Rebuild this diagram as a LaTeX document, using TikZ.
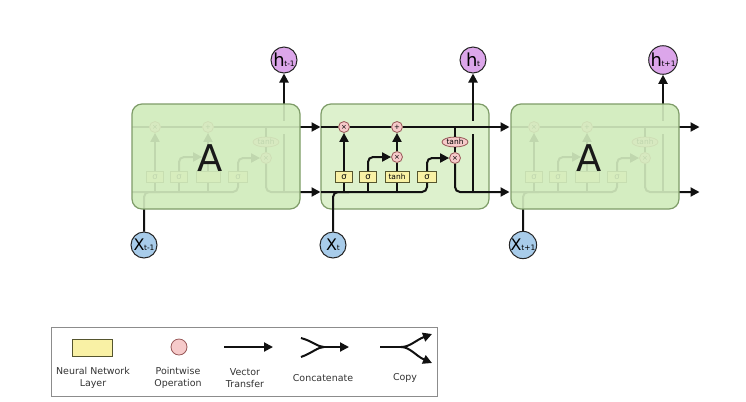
\documentclass[tikz,border=0pt]{standalone}
\usepackage{fontspec}
\setmainfont{DejaVu Sans}
\usetikzlibrary{shapes.geometric,arrows.meta}
\definecolor{cellfill}{HTML}{DDF1CD}
\definecolor{sidefill}{HTML}{D4EDC0}
\definecolor{cellborder}{HTML}{7E9C68}
\definecolor{nnfill}{HTML}{F9F1A5}
\definecolor{nnborder}{HTML}{55552E}
\definecolor{pwfill}{HTML}{F6CACA}
\definecolor{pwborder}{HTML}{985858}
\definecolor{hfill}{HTML}{DCA6EA}
\definecolor{xfill}{HTML}{A8CCEA}
\definecolor{wirecol}{HTML}{111111}
\newcommand\hlab[1]{{\fontsize{18}{18}\selectfont h}\kern-0.3pt\raisebox{-0.3pt}{\fontsize{7.5}{7.5}\selectfont #1}}
\newcommand\xlab[1]{{\fontsize{16}{16}\selectfont X}\kern-0.3pt\raisebox{-0.3pt}{\fontsize{7.5}{7.5}\selectfont #1}}
\tikzset{
  wire/.style={draw=wirecol, line width=2bp},
  flowarrow/.style={wire, -{Triangle[length=9bp,width=9bp]}},
  cellbox/.style={rectangle, rounded corners=10bp, minimum width=168bp, minimum height=105bp, inner sep=0pt, draw=cellborder, line width=1.2bp},
  pw/.style={circle, draw=pwborder, fill=pwfill, minimum size=11bp, inner sep=0pt, line width=0.8bp, font=\fontsize{7}{7}\selectfont},
  nn/.style={rectangle, draw=nnborder, fill=nnfill, minimum height=11bp, inner sep=0pt, line width=0.8bp, font=\fontsize{8.5}{8.5}\selectfont},
  tanhel/.style={ellipse, draw=pwborder, fill=pwfill, minimum width=26bp, minimum height=10bp, inner sep=0pt, line width=0.8bp, font=\fontsize{7.5}{7.5}\selectfont},
  hcirc/.style={circle, draw=black!85, fill=hfill, minimum size=26bp, inner sep=0pt, line width=1bp},
  xcirc/.style={circle, draw=black!85, fill=xfill, minimum size=26bp, inner sep=0pt, line width=1bp},
  bigA/.style={font=\fontsize{37}{37}\selectfont, text=black!90, inner sep=0pt},
  legtext/.style={align=center, font=\fontsize{9.5}{12}\selectfont, text=black!80, inner sep=0pt},
  pics/lstm/.style n args={4}{code={
    \node[pw] (-fx) at (23,23) {×};
    \node[pw] (-add) at (76,23) {+};
    \node[pw] (-ix) at (76,53) {#3};
    \node[pw] (-ox) at (134,54) {×};
    \node[tanhel] (-th) at (134,38) {tanh};
    \node[nn, minimum width=17bp] (-s1) at (23,73) {σ};
    \node[nn, minimum width=17bp] (-s2) at (47,73) {σ};
    \node[nn, minimum width=24bp, font=\fontsize{7.5}{7.5}\selectfont] (-tb) at (76,73) {#4};
    \node[nn, minimum width=19bp] (-s3) at (106,73) {σ};
    \node[hcirc] (-h) at (152,-44) {#1};
    \node[xcirc] (-x) at (12,141) {#2};
    \coordinate (-cin) at (0,23);
    \coordinate (-cout) at (188.5,23);
    \coordinate (-hin) at (0,88);
    \coordinate (-hout) at (188.5,88);
    \coordinate (-tap) at (134,23);
    \coordinate (-hup) at (152,88);
    \coordinate (-gapb) at (152,29.5);
    \coordinate (-gapt) at (152,16.5);
    \coordinate (-b1) at (23,88);
    \coordinate (-b2) at (47,88);
    \coordinate (-b3) at (76,88);
    \coordinate (-xj) at (28,88);
    % cell state
    \draw[wire] (-cin) -- (-fx);
    \draw[wire] (-fx) -- (-add);
    \draw[flowarrow] (-add) -- (-cout);
    % hidden / input line
    \draw[wire, rounded corners=5bp] (-hin) -| (-s3.south);
    \draw[wire, rounded corners=5bp] (-x.north) |- (-xj);
    \draw[wire] (-b1) -- (-s1.south);
    \draw[wire] (-b2) -- (-s2.south);
    \draw[wire] (-b3) -- (-tb.south);
    % gates
    \draw[flowarrow] (-s1.north) -- (-fx.south);
    \draw[flowarrow, rounded corners=5bp] (-s2.north) |- (-ix.west);
    \draw[wire] (-tb.north) -- (-ix.south);
    \draw[flowarrow] (-ix.north) -- (-add.south);
    \draw[flowarrow, rounded corners=5bp] (-s3.north) |- (-ox.west);
    \draw[wire] (-tap) -- (-th.north);
    \draw[wire] (-th.south) -- (-ox.north);
    \draw[flowarrow, rounded corners=5bp] (-ox.south) |- (-hout);
    % output h
    \draw[wire] (-hup) -- (-gapb);
    \draw[flowarrow] (-gapt) -- (-h.south);
  }}
}
\begin{document}
\begin{tikzpicture}[x=1bp,y=-1bp]
\useasboundingbox (0,0) rectangle (746,401);
\fill[white] (0,0) rectangle (746,401);

% center box
\node[cellbox, fill=cellfill] (boxC) at (405,156.5) {};
% left cell
\node[cellbox, draw=none, fill=cellfill] (boxL) at (216,156.5) {};
\pic (L) at (132,104) {lstm={\hlab{t-1}}{\xlab{t-1}}{}{}};
\node[cellbox, fill=sidefill, fill opacity=0.9] (ovL) at (216,156.5) {};
\node[bigA] (AL) at (210,158.5) {A};
% center cell
\pic (C) at (321,104) {lstm={\hlab{t}}{\xlab{t}}{×}{tanh}};
% right cell
\node[cellbox, draw=none, fill=cellfill] (boxR) at (595,156.5) {};
\pic (R) at (511,104) {lstm={\hlab{t+1}}{\xlab{t+1}}{}{}};
\node[cellbox, fill=sidefill, fill opacity=0.9] (ovR) at (595,156.5) {};
\node[bigA] (AR) at (589,158.5) {A};

% legend
\node[rectangle, draw=black!45, line width=1bp, minimum width=386bp, minimum height=69bp, inner sep=0pt] (legend) at (244.3,361.8) {};
\node[rectangle, draw=nnborder, fill=nnfill, line width=0.8bp, minimum width=40bp, minimum height=17bp, inner sep=0pt] (Lnn) at (92,347.5) {};
\node[circle, draw=pwborder, fill=pwfill, line width=0.8bp, minimum size=16bp, inner sep=0pt] (Lpw) at (179,347) {};
\coordinate (Lva) at (224,347);
\coordinate (Lvb) at (273,347);
\draw[flowarrow] (Lva) -- (Lvb);
\coordinate (Lc1) at (301,338);
\coordinate (Lc2) at (301,357);
\coordinate (Lcm) at (324,347);
\coordinate (Lce) at (349,347);
\draw[wire] (Lc1) .. controls (312,341) and (318,347) .. (Lcm);
\draw[wire] (Lc2) .. controls (312,353) and (318,347) .. (Lcm);
\draw[flowarrow] (Lcm) -- (Lce);
\coordinate (Lp0) at (380,347);
\coordinate (Lpm) at (401,347);
\coordinate (Lpu) at (432,334);
\coordinate (Lpd) at (432,363);
\draw[wire] (Lp0) -- (Lpm);
\draw[flowarrow] (Lpm) .. controls (410,347) and (416,340) .. (Lpu);
\draw[flowarrow] (Lpm) .. controls (410,347) and (416,356) .. (Lpd);
\node[legtext] (T1) at (93,378) {Neural Network\\Layer};
\node[legtext] (T2) at (178,378) {Pointwise\\Operation};
\node[legtext] (T3) at (245,378) {Vector\\Transfer};
\node[legtext] (T4) at (323,378) {Concatenate};
\node[legtext] (T5) at (405,378) {Copy};
\end{tikzpicture}
\end{document}
